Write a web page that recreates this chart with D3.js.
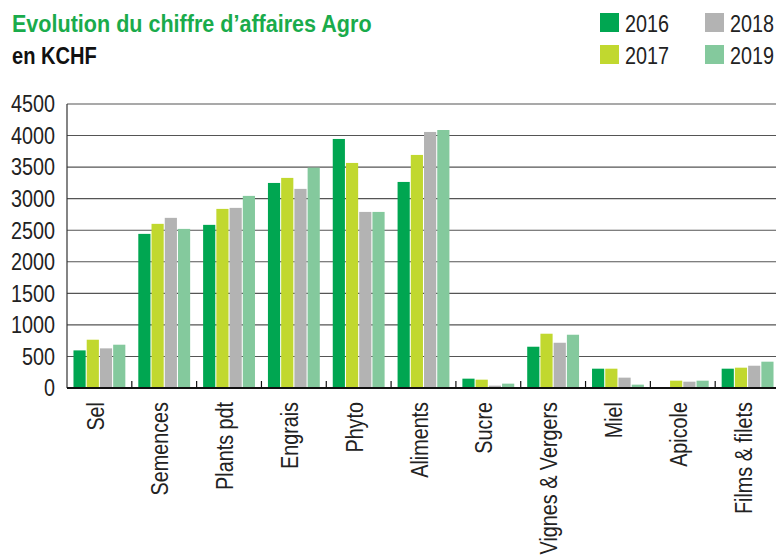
<!DOCTYPE html>
<html>
<head>
<meta charset="utf-8">
<script src="https://cdn.jsdelivr.net/npm/d3@7"></script>
<style>
    body { margin: 0; background: #fff; }
    svg { display: block; }
    text { font-family: "Liberation Sans", Arial, sans-serif; }
</style>
</head>
<body>
<svg id="vis1" width="776" height="557"></svg>
<script>

// data (KCHF)
var categories = ['Sel', 'Semences', 'Plants pdt', 'Engrais', 'Phyto', 'Aliments',
                  'Sucre', 'Vignes & Vergers', 'Miel', 'Apicole', 'Films & filets'];
var years = ['2016', '2017', '2018', '2019'];
var v2016 = [596, 2442, 2585, 3249, 3946, 3265, 148, 654, 306, 0, 306];
var v2017 = [765, 2601, 2838, 3329, 3566, 3693, 132, 860, 306, 116, 322];
var v2018 = [628, 2696, 2854, 3155, 2790, 4057, 37, 717, 164, 100, 353];
var v2019 = [686, 2521, 3044, 3492, 2790, 4088, 69, 844, 53, 116, 417];
var yTicks = [0, 500, 1000, 1500, 2000, 2500, 3000, 3500, 4000, 4500];

var colors = ['#00a651', '#c1d82f', '#b3b3b3', '#84c99d'];

// no condensed font installed -> squeeze Liberation Sans horizontally
var narrow = 0.86, narrowDigits = 0.86, narrowTitle = 0.88, narrowSub = 0.82;

window.onload = function(){
    drawChart();
};

function drawChart(){
    let svg = d3.select("#vis1");
    let series = [v2016, v2017, v2018, v2019];

    // plot area
    let left = 67, right = 780, top = 104, bottom = 388;

    let x0 = d3.scaleBand()
        .domain(categories)
        .range([left, right])
        .paddingInner(0.2)
        .paddingOuter(0.1);

    let x1 = d3.scaleBand()
        .domain(years)
        .range([0, x0.bandwidth()])
        .paddingInner(0.08);

    let y = d3.scaleLinear()
        .domain([0, 4500])
        .range([bottom, top]);

    // grid lines
    svg.append("g").selectAll("line").data(yTicks.slice(1))
        .enter()
        .append("line")
        .attr("x1", left).attr("x2", right)
        .attr("y1", function(d){ return y(d); })
        .attr("y2", function(d){ return y(d); })
        .attr("stroke", "#555")
        .attr("stroke-width", 1.1);

    // left axis line
    svg.append("line")
        .attr("x1", left).attr("x2", left)
        .attr("y1", top).attr("y2", bottom)
        .attr("stroke", "#333")
        .attr("stroke-width", 1.2);

    // y labels
    svg.append("g").selectAll("text").data(yTicks)
        .enter()
        .append("text")
        .attr("transform", function(d){
            return "translate(55," + y(d) + ") scale(" + narrowDigits + ",1)";
        })
        .attr("dy", "0.36em")
        .attr("text-anchor", "end")
        .attr("font-size", 23)
        .attr("fill", "#222")
        .text(function(d){ return d3.format("d")(d); });

    // bars
    let rows = categories.map(function(c, i){
        return {cat: c, vals: years.map(function(yr, j){ return {year: yr, v: series[j][i], k: j}; })};
    });

    svg.append("g").selectAll("g").data(rows)
        .enter()
        .append("g")
        .attr("transform", function(d){ return "translate(" + x0(d.cat) + ",0)"; })
        .selectAll("rect").data(function(d){ return d.vals; })
        .enter()
        .append("rect")
        .attr("x", function(d){ return x1(d.year); })
        .attr("y", function(d){ return y(d.v); })
        .attr("width", x1.bandwidth())
        .attr("height", function(d){ return bottom - y(d.v); })
        .attr("fill", function(d){ return colors[d.k]; });

    // x axis: baseline + separator ticks between groups
    let step = x0.step();
    let seps = categories.slice(1).map(function(c){ return x0(c) - step * x0.paddingInner() / 2; });
    svg.append("g").selectAll("line").data(seps)
        .enter()
        .append("line")
        .attr("x1", function(d){ return d; }).attr("x2", function(d){ return d; })
        .attr("y1", bottom - 7).attr("y2", bottom)
        .attr("stroke", "#111")
        .attr("stroke-width", 1.2);

    svg.append("line")
        .attr("x1", left).attr("x2", right)
        .attr("y1", bottom).attr("y2", bottom)
        .attr("stroke", "#111")
        .attr("stroke-width", 2);

    // category labels, rotated
    svg.append("g").selectAll("text").data(categories)
        .enter()
        .append("text")
        .attr("transform", function(d){
            return "translate(" + (x0(d) + x0.bandwidth() / 2) + "," + (bottom + 14) + ") rotate(-90) scale(" + narrow + ",1)";
        })
        .attr("dy", "0.18em")
        .attr("text-anchor", "end")
        .attr("font-size", 23)
        .attr("fill", "#222")
        .text(function(d){ return d; });

    // title
    svg.append("text")
        .attr("transform", "translate(12,31.5) scale(" + narrowTitle + ",1)")
        .attr("font-size", 24.5)
        .attr("font-weight", "bold")
        .attr("fill", "#1aab4b")
        .text("Evolution du chiffre d\u2019affaires Agro");
    svg.append("text")
        .attr("transform", "translate(12,63.5) scale(" + narrowSub + ",1)")
        .attr("font-size", 24.5)
        .attr("font-weight", "bold")
        .attr("fill", "#111")
        .text("en KCHF");

    // legend, 2 columns
    let legX = [600, 705], legY = [13, 45];
    let leg = svg.append("g").selectAll("g").data(years)
        .enter()
        .append("g")
        .attr("transform", function(d, i){
            return "translate(" + legX[Math.floor(i / 2)] + "," + legY[i % 2] + ")";
        });
    leg.append("rect")
        .attr("width", 19).attr("height", 19)
        .attr("fill", function(d, i){ return colors[i]; });
    leg.append("text")
        .attr("transform", "translate(25,18.5) scale(" + narrowDigits + ",1)")
        .attr("font-size", 23)
        .attr("fill", "#222")
        .text(function(d){ return d; });
}
</script>
</body>
</html>
